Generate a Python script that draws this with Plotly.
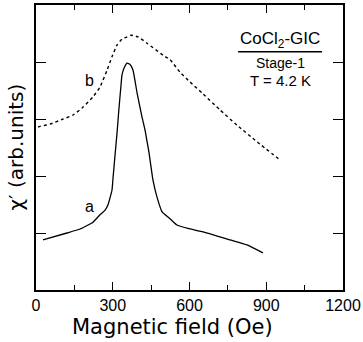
import plotly.graph_objects as go

# Curve a (solid)
a_field = [27, 121, 172, 223, 250, 270, 281, 297, 301, 309, 317, 324, 332, 336, 344, 356,
           367, 379, 395, 414, 426, 442, 457, 473, 493, 524, 551, 594, 653, 758, 825, 887]
a_chi = [0.88, 1.00, 1.07, 1.19, 1.32, 1.40, 1.49, 1.75, 1.96, 2.37, 2.77, 3.17, 3.58, 3.77, 3.89, 3.98,
         3.96, 3.86, 3.46, 3.04, 2.81, 2.40, 1.93, 1.63, 1.37, 1.25, 1.14, 1.08, 1.02, 0.88, 0.79, 0.65]

# Curve b (dotted)
b_field = [8, 16, 55, 106, 145, 184, 223, 250, 278, 297, 317, 336, 356, 371, 399, 434, 496,
           524, 563, 602, 653, 719, 786, 864, 954]
b_chi = [2.86, 2.87, 2.91, 3.00, 3.07, 3.21, 3.39, 3.56, 3.86, 4.09, 4.30, 4.40, 4.44, 4.47, 4.44,
         4.33, 4.12, 4.04, 3.82, 3.65, 3.44, 3.16, 2.89, 2.60, 2.28]

x_ticks = [0, 300, 600, 900, 1200]
y_ticks = [1, 2, 3, 4]

FONT = "Liberation Sans"
TFONT = "DejaVu Sans"

fig = go.Figure()
fig.add_trace(go.Scatter(x=b_field, y=b_chi, mode="lines",
                         line=dict(color="black", width=1.4, dash="dot", shape="spline", smoothing=0.5),
                         showlegend=False, hoverinfo="skip"))
fig.add_trace(go.Scatter(x=a_field, y=a_chi, mode="lines",
                         line=dict(color="black", width=1.3, shape="spline", smoothing=0.4),
                         showlegend=False, hoverinfo="skip"))

fig.add_annotation(x=211, y=3.68, text="b", showarrow=False, font=dict(family=FONT, size=16, color="black"))
fig.add_annotation(x=211, y=1.46, text="a", showarrow=False, font=dict(family=FONT, size=16, color="black"))

fig.add_annotation(x=954, y=4.38, text="CoCl<sub>2</sub>-GIC", showarrow=False,
                   font=dict(family=FONT, size=17, color="black"))
fig.add_shape(type="line", x0=790, x1=1118, y0=4.18, y1=4.18, line=dict(color="black", width=1.3))
fig.add_annotation(x=954, y=3.98, text="Stage-1", showarrow=False,
                   font=dict(family=FONT, size=14, color="black"))
fig.add_annotation(x=954, y=3.67, text="T = 4.2 K", showarrow=False,
                   font=dict(family=FONT, size=15, color="black"))

# axis titles
fig.add_annotation(xref="paper", yref="paper", x=0.446, y=0, yanchor="middle", yshift=-37,
                   text="Magnetic field (Oe)", showarrow=False,
                   font=dict(family=TFONT, size=21, color="black"))
fig.add_annotation(xref="paper", yref="paper", x=0, y=0.5, xanchor="center", xshift=-21,
                   text="χ′ (arb.units)", textangle=-90, showarrow=False,
                   font=dict(family=TFONT, size=20, color="black"))

fig.update_xaxes(range=[0, 1200], tickvals=x_ticks, ticktext=[str(v) for v in x_ticks],
                 ticks="inside", ticklen=8, tickwidth=1.4, tickcolor="black",
                 minor=dict(dtick=150, tick0=0, ticks="inside", ticklen=5, tickwidth=1.2, tickcolor="black"),
                 showline=True, linecolor="black", linewidth=2, mirror="ticks",
                 showgrid=False, zeroline=False, automargin=False,
                 tickfont=dict(family=FONT, size=16, color="black"))
fig.update_yaxes(range=[0, 5], tickvals=y_ticks, showticklabels=False,
                 ticks="inside", ticklen=10, tickwidth=1.4, tickcolor="black",
                 showline=True, linecolor="black", linewidth=2, mirror="ticks",
                 showgrid=False, zeroline=False, automargin=False)

fig.update_layout(width=363, height=342, margin=dict(l=36, r=20, t=5, b=52, autoexpand=False),
                  plot_bgcolor="white", paper_bgcolor="white", hovermode=False)

fig.write_html("out.html", config={"displayModeBar": False},
               post_script="document.body.style.margin='0';document.body.style.overflow='hidden';")
